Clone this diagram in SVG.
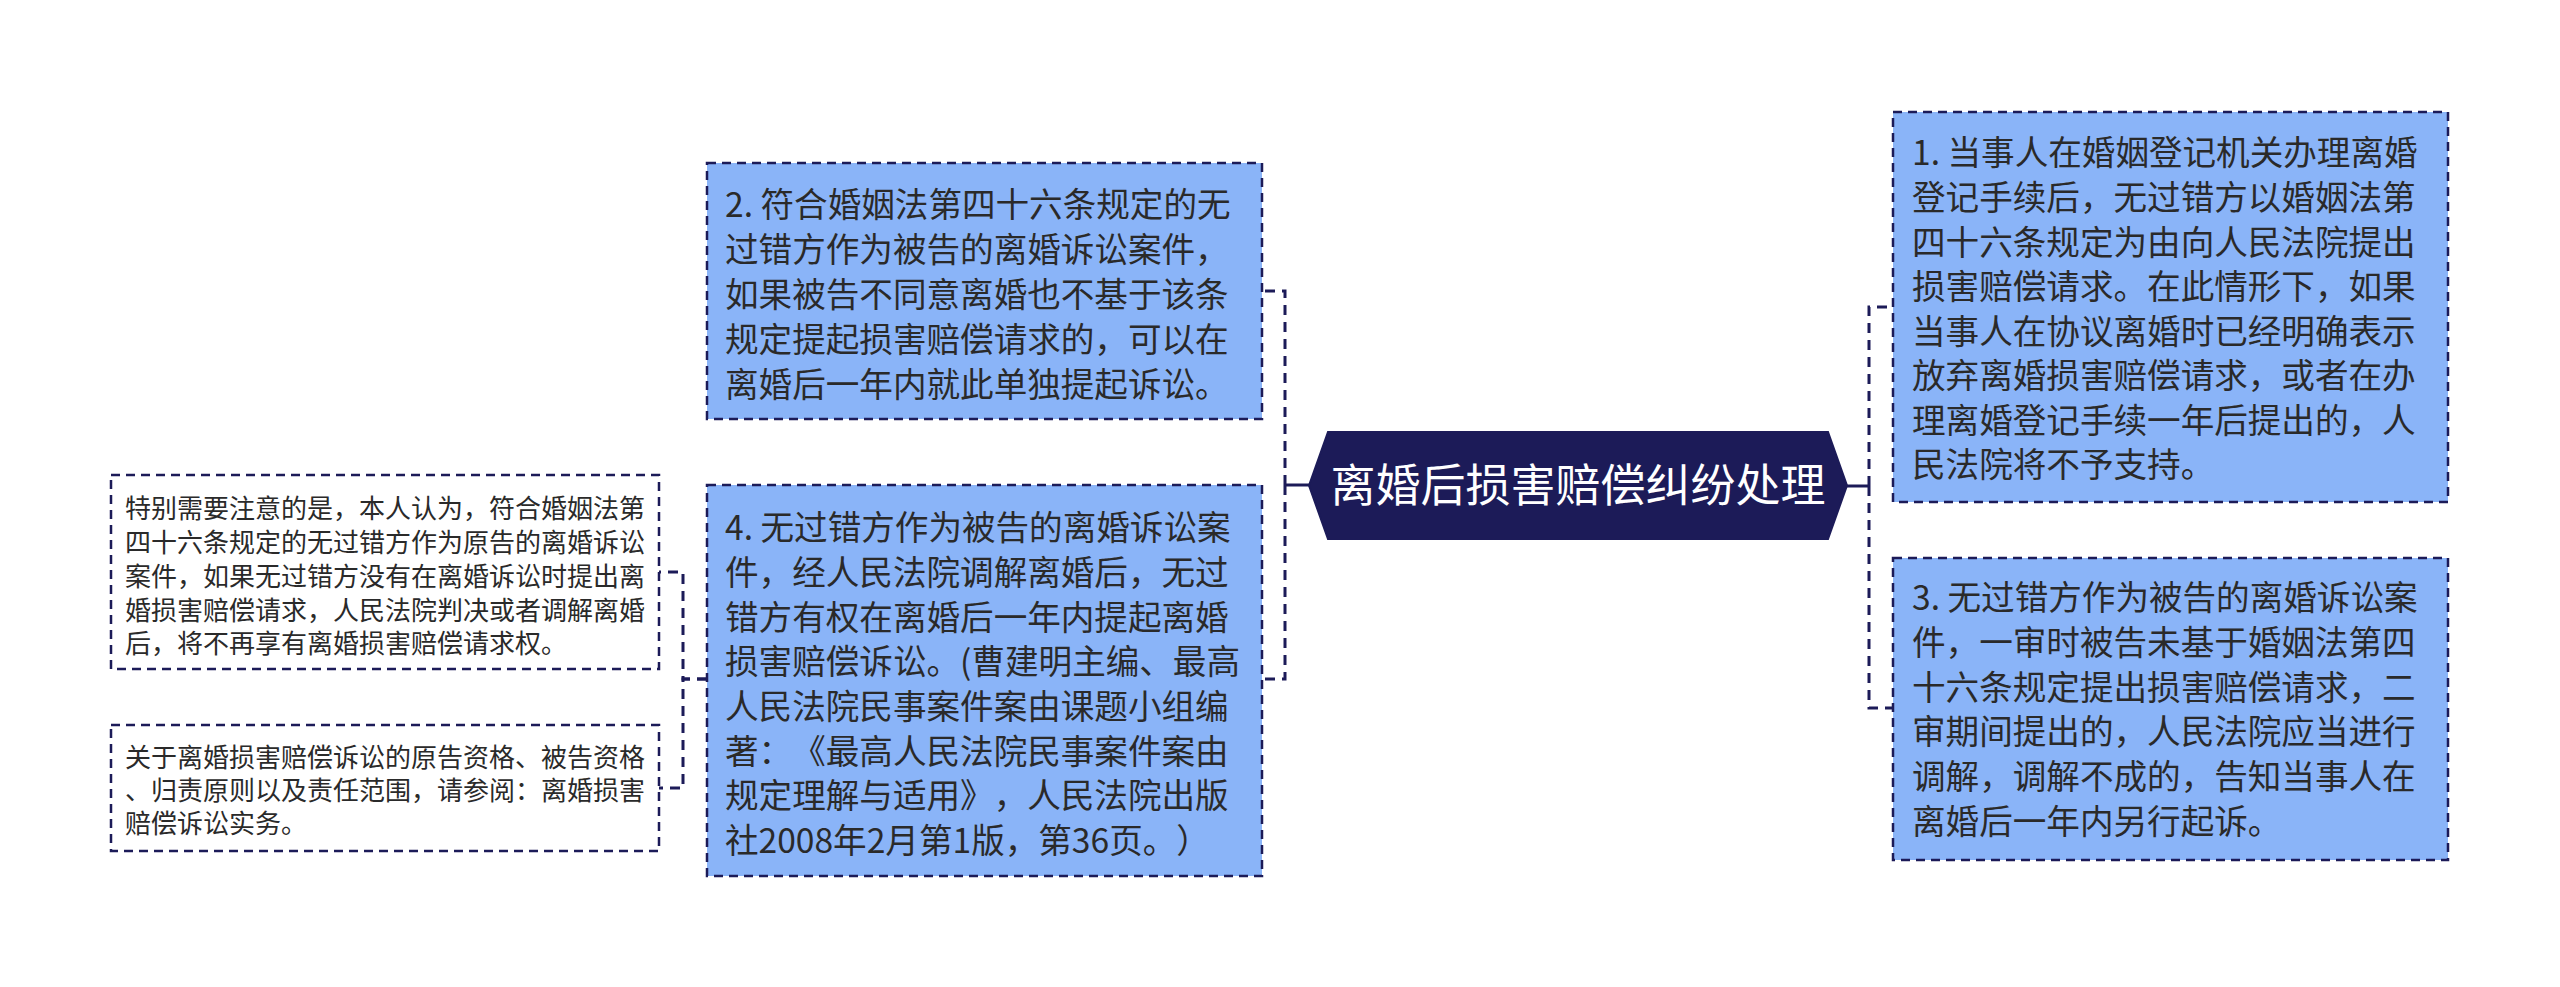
<svg xmlns="http://www.w3.org/2000/svg" width="2560" height="987" viewBox="0 0 2560 987">
<style>
.bg{fill:#ffffff}
.box{fill:#8ab4f8;stroke:#1c1b58;stroke-width:2.5;stroke-dasharray:9 6}
.note{fill:#ffffff;stroke:#1c1b58;stroke-width:2.5;stroke-dasharray:9 6}
.hex{fill:#1c1b58;stroke:#1c1b58;stroke-width:2}
text{text-spacing-trim:space-all}
.t{font-family:"Noto Sans CJK SC","Noto Sans",sans-serif;font-size:33.6px;fill:#2a2a2a}
.tn{font-family:"Noto Sans CJK SC","Noto Sans",sans-serif;font-size:26px;fill:#2a2a2a}
.tc{font-family:"Noto Sans CJK SC","Noto Sans",sans-serif;font-size:45px;fill:#ffffff;text-anchor:middle}
.c{fill:none;stroke:#1c1b58;stroke-width:3;stroke-dasharray:10 7}
.s{fill:none;stroke:#1c1b58;stroke-width:3}
</style>
<rect class="bg" x="0" y="0" width="2560" height="987"/>
<g id="connectors">
<line class="s" x1="1285" y1="485" x2="1309" y2="485"/>
<path class="c" d="M1285,485 V291 H1262"/>
<path class="c" d="M1285,485 V679 H1262"/>
<line class="s" x1="1847" y1="486" x2="1869" y2="486"/>
<path class="c" d="M1869,486 V307 H1893"/>
<path class="c" d="M1869,486 V708 H1893"/>
<path class="c" d="M707,679 H683 V572 H659"/>
<path class="c" d="M707,679 H683 V788 H659"/>
</g>
<g id="center">
<polygon class="hex" points="1309,485.5 1328,432 1828,432 1847,485.5 1828,539 1328,539"/>
<text class="tc" x="1578" y="502">离婚后损害赔偿纠纷处理</text>
</g>
<g id="node2">
<rect class="box" x="707" y="163" width="555" height="256"/>
<text class="t" x="725"><tspan x="725" y="217">2. 符合婚姻法第四十六条规定的无</tspan><tspan x="725" y="262">过错方作为被告的离婚诉讼案件，</tspan><tspan x="725" y="307">如果被告不同意离婚也不基于该条</tspan><tspan x="725" y="352">规定提起损害赔偿请求的，可以在</tspan><tspan x="725" y="397">离婚后一年内就此单独提起诉讼。</tspan></text>
</g>
<g id="node4">
<rect class="box" x="707" y="485" width="555" height="391"/>
<text class="t" x="725"><tspan x="725" y="540">4. 无过错方作为被告的离婚诉讼案</tspan><tspan x="725" y="585">件，经人民法院调解离婚后，无过</tspan><tspan x="725" y="630">错方有权在离婚后一年内提起离婚</tspan><tspan x="725" y="674">损害赔偿诉讼。(曹建明主编、最高</tspan><tspan x="725" y="719">人民法院民事案件案由课题小组编</tspan><tspan x="725" y="764">著：《最高人民法院民事案件案由</tspan><tspan x="725" y="808">规定理解与适用》，人民法院出版</tspan><tspan x="725" y="853">社2008年2月第1版，第36页。）</tspan></text>
</g>
<g id="node1">
<rect class="box" x="1893" y="112" width="555" height="390"/>
<text class="t" x="1912"><tspan x="1912" y="165">1. 当事人在婚姻登记机关办理离婚</tspan><tspan x="1912" y="210">登记手续后，无过错方以婚姻法第</tspan><tspan x="1912" y="255">四十六条规定为由向人民法院提出</tspan><tspan x="1912" y="299">损害赔偿请求。在此情形下，如果</tspan><tspan x="1912" y="344">当事人在协议离婚时已经明确表示</tspan><tspan x="1912" y="388">放弃离婚损害赔偿请求，或者在办</tspan><tspan x="1912" y="433">理离婚登记手续一年后提出的，人</tspan><tspan x="1912" y="477">民法院将不予支持。</tspan></text>
</g>
<g id="node3">
<rect class="box" x="1893" y="558" width="555" height="302"/>
<text class="t" x="1912"><tspan x="1912" y="610">3. 无过错方作为被告的离婚诉讼案</tspan><tspan x="1912" y="655">件，一审时被告未基于婚姻法第四</tspan><tspan x="1912" y="700">十六条规定提出损害赔偿请求，二</tspan><tspan x="1912" y="744">审期间提出的，人民法院应当进行</tspan><tspan x="1912" y="789">调解，调解不成的，告知当事人在</tspan><tspan x="1912" y="834">离婚后一年内另行起诉。</tspan></text>
</g>
<g id="noteA">
<rect class="note" x="111" y="475" width="548" height="194"/>
<text class="tn" x="125"><tspan x="125" y="518">特别需要注意的是，本人认为，符合婚姻法第</tspan><tspan x="125" y="552">四十六条规定的无过错方作为原告的离婚诉讼</tspan><tspan x="125" y="586">案件，如果无过错方没有在离婚诉讼时提出离</tspan><tspan x="125" y="620">婚损害赔偿请求，人民法院判决或者调解离婚</tspan><tspan x="125" y="653">后，将不再享有离婚损害赔偿请求权。</tspan></text>
</g>
<g id="noteB">
<rect class="note" x="111" y="725" width="548" height="126"/>
<text class="tn" x="125"><tspan x="125" y="767">关于离婚损害赔偿诉讼的原告资格、被告资格</tspan><tspan x="125" y="800">、归责原则以及责任范围，请参阅：离婚损害</tspan><tspan x="125" y="833">赔偿诉讼实务。</tspan></text>
</g>
</svg>
